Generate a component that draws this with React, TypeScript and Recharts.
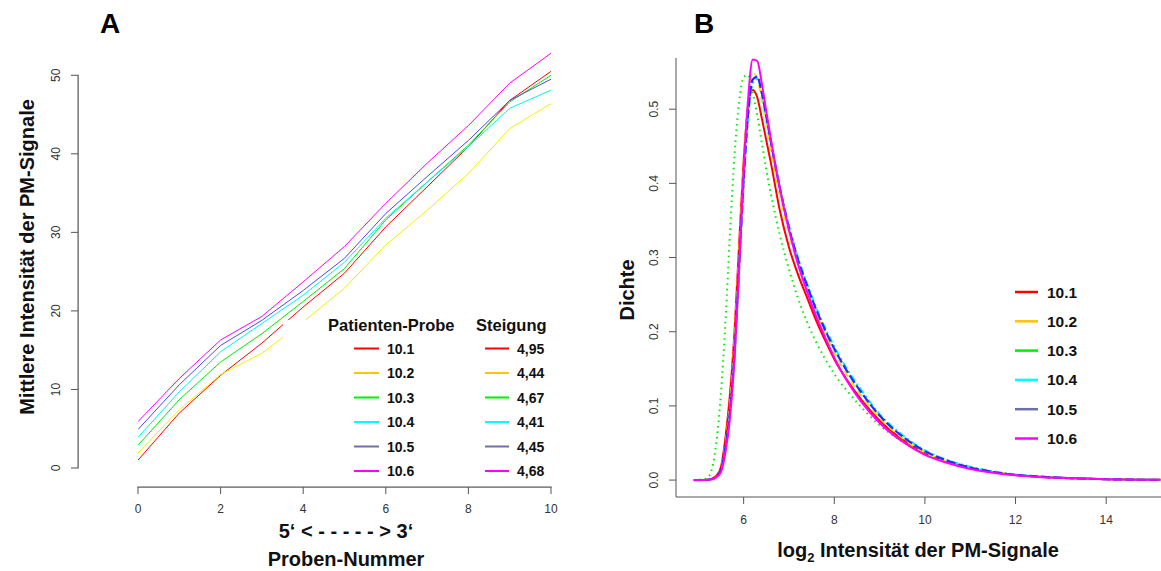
import React from 'react';
import { LineChart, Line, XAxis, YAxis } from 'recharts';

const FONT = '"Liberation Sans", Arial, Helvetica, sans-serif';

// ---------- Panel A data ----------
const probeNumbers = [0, 1, 2, 3, 4, 5, 6, 7, 8, 9, 10];
const mean101 = [1.0, 7.0, 11.8, 15.9, 20.5, 24.8, 30.7, 35.8, 40.9, 46.8, 50.5];
const mean102 = [1.9, 7.4, 11.9, 14.6, 18.6, 22.9, 28.4, 32.8, 37.5, 43.2, 46.4];
const mean103 = [2.9, 8.7, 13.5, 17.1, 21.2, 25.4, 31.6, 36.4, 41.1, 46.6, 50.0];
const mean104 = [3.9, 9.7, 14.8, 18.4, 22.0, 26.2, 31.8, 36.4, 40.9, 45.8, 48.1];
const mean105 = [4.9, 10.6, 15.6, 18.8, 22.6, 26.7, 32.4, 37.1, 41.7, 46.8, 49.5];
const mean106 = [5.9, 11.4, 16.3, 19.3, 23.7, 28.2, 33.7, 38.8, 43.6, 49.0, 52.8];

const sampleLabels = ['10.1', '10.2', '10.3', '10.4', '10.5', '10.6'];
const slopeLabels = ['4,95', '4,44', '4,67', '4,41', '4,45', '4,68'];
const xTicksA = [0, 2, 4, 6, 8, 10];
const yTicksA = [0, 10, 20, 30, 40, 50];

// ---------- Panel B data ----------
const densityX = [4.9, 5.0, 5.1, 5.2, 5.3, 5.4, 5.5, 5.6, 5.7, 5.8, 5.9, 6.0, 6.1, 6.2, 6.3, 6.4, 6.5, 6.6, 6.8, 7.0, 7.2, 7.4, 7.6, 7.8, 8.0, 8.3, 8.6, 9.0, 9.5, 10.0, 10.5, 11.0, 11.5, 12.0, 12.5, 13.0, 13.5, 14.0, 14.5, 15.0, 15.2];
const dens101 = [0, 0, 0.0002, 0.0005, 0.002, 0.006, 0.018, 0.058, 0.117, 0.202, 0.318, 0.430, 0.505, 0.526, 0.516, 0.488, 0.458, 0.428, 0.363, 0.314, 0.277, 0.246, 0.215, 0.188, 0.163, 0.133, 0.108, 0.080, 0.055, 0.036, 0.024, 0.016, 0.011, 0.007, 0.0045, 0.003, 0.002, 0.0012, 0.0007, 0.0004, 0.0003];
const dens102 = [0, 0, 0.0002, 0.0005, 0.002, 0.005, 0.016, 0.050, 0.105, 0.190, 0.305, 0.420, 0.510, 0.549, 0.541, 0.513, 0.480, 0.447, 0.384, 0.333, 0.292, 0.257, 0.226, 0.198, 0.172, 0.140, 0.114, 0.084, 0.057, 0.037, 0.025, 0.016, 0.011, 0.007, 0.0045, 0.003, 0.002, 0.0012, 0.0007, 0.0004, 0.0003];
const dens103 = [0, 0.0005, 0.001, 0.003, 0.015, 0.052, 0.118, 0.215, 0.335, 0.440, 0.510, 0.543, 0.546, 0.522, 0.492, 0.455, 0.418, 0.386, 0.330, 0.284, 0.245, 0.213, 0.186, 0.163, 0.143, 0.119, 0.098, 0.074, 0.052, 0.035, 0.024, 0.016, 0.011, 0.007, 0.0045, 0.003, 0.002, 0.0012, 0.0007, 0.0004, 0.0003];
const dens104 = [0, 0, 0.0001, 0.0003, 0.0012, 0.004, 0.013, 0.042, 0.090, 0.168, 0.280, 0.395, 0.488, 0.535, 0.541, 0.521, 0.490, 0.457, 0.395, 0.343, 0.300, 0.265, 0.233, 0.205, 0.180, 0.148, 0.121, 0.089, 0.061, 0.040, 0.027, 0.018, 0.012, 0.0075, 0.005, 0.0032, 0.002, 0.0012, 0.0007, 0.0004, 0.0003];
const dens105 = [0, 0, 0.0001, 0.0004, 0.0015, 0.005, 0.014, 0.045, 0.095, 0.175, 0.290, 0.405, 0.495, 0.540, 0.544, 0.522, 0.490, 0.456, 0.393, 0.340, 0.297, 0.262, 0.230, 0.202, 0.177, 0.145, 0.118, 0.087, 0.059, 0.039, 0.026, 0.017, 0.011, 0.007, 0.0048, 0.003, 0.002, 0.0012, 0.0007, 0.0004, 0.0003];
const dens106 = [0, 0, 0.0001, 0.0003, 0.001, 0.004, 0.011, 0.038, 0.085, 0.165, 0.285, 0.415, 0.515, 0.567, 0.565, 0.535, 0.497, 0.460, 0.393, 0.337, 0.291, 0.254, 0.221, 0.192, 0.165, 0.132, 0.105, 0.077, 0.052, 0.034, 0.023, 0.015, 0.010, 0.0065, 0.0043, 0.003, 0.002, 0.0012, 0.0007, 0.0004, 0.0003];
const xTicksB = [6, 8, 10, 12, 14];
const yTicksB = [0, 0.1, 0.2, 0.3, 0.4, 0.5];

// ---------- styles ----------
const colorsA = ['#FF0000', '#F2F200', '#00EE00', '#00F4F4', '#5048E8', '#FF00FF'];
const legendColors = ['#FF0000', '#FFC400', '#00EE00', '#00FFFF', '#6E6EA8', '#FF00FF'];
const colorsB = ['#FF0000', '#FFE000', '#00EE00', '#00EEFF', '#2828FF', '#FF00FF'];
const dashB = [undefined, '7 5', '1.5 4', '2 3 7 3', '9 3', undefined];
const widthB = [2, 2, 2, 2, 2.2, 2];

const keys = ['s101', 's102', 's103', 's104', 's105', 's106'];

const dataA = probeNumbers.map((x, i) => ({
  x,
  s101: mean101[i],
  s102: mean102[i],
  s103: mean103[i],
  s104: mean104[i],
  s105: mean105[i],
  s106: mean106[i],
}));

const dataB = densityX.map((x, i) => ({
  x,
  s101: dens101[i],
  s102: dens102[i],
  s103: dens103[i],
  s104: dens104[i],
  s105: dens105[i],
  s106: dens106[i],
}));

// ---------- Panel A layout (shared by charts and the R-style axis lines) ----------
const A_W = 600;
const A_H = 571;
const A_LEFT = 138; // plot left (x = 0)
const A_RIGHT = 551; // plot right (x = 10)
const A_TOP = 36;
const A_BOTTOM = 487;
const A_XDOM: [number, number] = [0, 10];
const A_YDOM: [number, number] = [-2.42, 55];
const A_YAXIS_X = 78;
const A_XAXIS_H = 30;
const A_YAXIS_W = 40;

const scaleAX = (v: number) => A_LEFT + ((v - A_XDOM[0]) / (A_XDOM[1] - A_XDOM[0])) * (A_RIGHT - A_LEFT);
const scaleAY = (v: number) => A_BOTTOM - ((v - A_YDOM[0]) / (A_YDOM[1] - A_YDOM[0])) * (A_BOTTOM - A_TOP);

const X_MIN_B = 4.507;
const X_MAX_B = 15.21;
const Y_MIN_B = -0.0228;
const Y_MAX_B = 0.569;

const AXIS_GREY = '#555';

const makeYTick = (fmt: (v: number) => string) => (props: any) => {
  const { x, y, payload } = props;
  const bx = x - 9;
  return (
    <text
      x={bx}
      y={y}
      transform={`rotate(-90 ${bx} ${y})`}
      textAnchor="middle"
      fontSize={12}
      fill="#333"
      fontFamily={FONT}
    >
      {fmt(payload.value)}
    </text>
  );
};

const makeXTick = (dy: number) => (props: any) => {
  const { x, y, payload } = props;
  return (
    <text x={x} y={y + dy} textAnchor="middle" fontSize={12} fill="#333" fontFamily={FONT}>
      {String(payload.value)}
    </text>
  );
};

const YTickA = makeYTick((v) => String(v));
const YTickB = makeYTick((v) => v.toFixed(1));
const XTickA = makeXTick(17.3);
const XTickB = makeXTick(18.3);

const yTop50 = scaleAY(yTicksA[yTicksA.length - 1]);
const yBot0 = scaleAY(yTicksA[0]);

export default function App() {
  return (
    <div style={{ position: 'absolute', left: 0, top: 0, width: 1161, height: 571, background: '#fff', overflow: 'hidden' }}>
      {/* Panel A: y-axis ticks (plot area spans exactly 0..50) */}
      <div style={{ position: 'absolute', left: 0, top: 0, pointerEvents: 'none' }}>
        <LineChart
          width={A_W}
          height={A_H}
          data={dataA}
          margin={{ top: yTop50, right: A_W - A_RIGHT, bottom: A_H - yBot0, left: A_YAXIS_X - A_YAXIS_W }}
        >
          <XAxis type="number" dataKey="x" domain={A_XDOM} allowDataOverflow hide />
          <YAxis
            type="number"
            domain={[yTicksA[0], yTicksA[yTicksA.length - 1]]}
            ticks={yTicksA}
            allowDataOverflow
            axisLine={false}
            tickLine={{ stroke: AXIS_GREY }}
            tickSize={7}
            tickMargin={2}
            width={A_YAXIS_W}
            tick={YTickA}
            interval={0}
          />
          <Line type="linear" dataKey="s101" stroke="none" strokeOpacity={0} dot={false} activeDot={false} isAnimationActive={false} />
        </LineChart>
      </div>

      {/* Panel A: series + x-axis ticks */}
      <div style={{ position: 'absolute', left: 0, top: 0 }}>
        <LineChart
          width={A_W}
          height={A_H}
          data={dataA}
          margin={{ top: A_TOP, right: A_W - A_RIGHT, bottom: A_H - A_BOTTOM - A_XAXIS_H, left: A_LEFT }}
        >
          <XAxis
            type="number"
            dataKey="x"
            domain={A_XDOM}
            ticks={xTicksA}
            allowDataOverflow
            axisLine={false}
            tickLine={{ stroke: AXIS_GREY }}
            tickSize={7}
            tickMargin={2}
            height={A_XAXIS_H}
            tick={XTickA}
            interval={0}
          />
          <YAxis type="number" domain={A_YDOM} allowDataOverflow width={0} axisLine={false} tickLine={false} tick={false} />
          {keys.map((k, i) => (
            <Line
              key={k}
              type="linear"
              dataKey={k}
              stroke={colorsA[i]}
              strokeWidth={1}
              dot={false}
              activeDot={false}
              isAnimationActive={false}
            />
          ))}
        </LineChart>
      </div>

      {/* Panel B */}
      <div style={{ position: 'absolute', left: 600, top: 0 }}>
        <LineChart width={561} height={571} data={dataB} margin={{ top: 58, right: 0, bottom: 44, left: 36 }}>
          <XAxis
            type="number"
            dataKey="x"
            domain={[X_MIN_B, X_MAX_B]}
            ticks={xTicksB}
            allowDataOverflow
            axisLine={{ stroke: AXIS_GREY }}
            tickLine={{ stroke: AXIS_GREY }}
            tickSize={7}
            tickMargin={2}
            height={30}
            tick={XTickB}
            interval={0}
          />
          <YAxis
            type="number"
            domain={[Y_MIN_B, Y_MAX_B]}
            ticks={yTicksB}
            allowDataOverflow
            axisLine={{ stroke: AXIS_GREY }}
            tickLine={{ stroke: AXIS_GREY }}
            tickSize={7}
            tickMargin={2}
            width={40}
            tick={YTickB}
            interval={0}
          />
          {keys.map((k, i) => (
            <Line
              key={k}
              type="monotone"
              dataKey={k}
              stroke={colorsB[i]}
              strokeWidth={widthB[i]}
              strokeDasharray={dashB[i]}
              dot={false}
              activeDot={false}
              isAnimationActive={false}
            />
          ))}
        </LineChart>
      </div>

      {/* Overlay: R-style axis lines for A, titles, axis titles, legends */}
      <svg width={1161} height={571} style={{ position: 'absolute', left: 0, top: 0, pointerEvents: 'none' }} fontFamily={FONT}>
        <rect
          x={scaleAX(xTicksA[0]) - 0.5}
          y={A_BOTTOM - 0.5}
          width={scaleAX(xTicksA[xTicksA.length - 1]) - scaleAX(xTicksA[0]) + 1}
          height={1.2}
          fill={AXIS_GREY}
        />
        <rect
          x={A_YAXIS_X - 0.5}
          y={yTop50 - 0.5}
          width={1.2}
          height={yBot0 - yTop50 + 1}
          fill={AXIS_GREY}
        />

        <text x={100} y={33} fontSize={28} fontWeight="bold" fill="#000">A</text>
        <text x={694} y={33} fontSize={28} fontWeight="bold" fill="#000">B</text>

        <text x={34} y={257} transform="rotate(-90 34 257)" textAnchor="middle" fontSize={20} fontWeight="bold" fill="#111">
          Mittlere Intensität der PM-Signale
        </text>
        <text x={346} y={538} textAnchor="middle" fontSize={20} fontWeight="bold" fill="#111">
          5‘ &lt; - - - - - &gt; 3‘
        </text>
        <text x={346} y={566} textAnchor="middle" fontSize={20} fontWeight="bold" fill="#111">
          Proben-Nummer
        </text>

        <text x={634} y={290} transform="rotate(-90 634 290)" textAnchor="middle" fontSize={20} fontWeight="bold" fill="#111">
          Dichte
        </text>
        <text x={918} y={557} textAnchor="middle" fontSize={20} fontWeight="bold" fill="#111">
          log<tspan fontSize={13} dy={5}>2</tspan><tspan dy={-5}> Intensität der PM-Signale</tspan>
        </text>

        {/* Legend A with white background */}
        <rect x={283} y={320} width={275} height={162} fill="#fff" />
        <text x={328} y={331} fontSize={16.5} fontWeight="bold" fill="#111">Patienten-Probe</text>
        <text x={476} y={331} fontSize={16.5} fontWeight="bold" fill="#111">Steigung</text>
        {sampleLabels.map((lab, i) => {
          const cy = 348.5 + i * 24.5;
          return (
            <g key={'la' + i}>
              <line x1={354} x2={379} y1={cy} y2={cy} stroke={legendColors[i]} strokeWidth={2} />
              <text x={387} y={cy + 5} fontSize={14} fontWeight="bold" fill="#111">{lab}</text>
              <line x1={485} x2={509} y1={cy} y2={cy} stroke={legendColors[i]} strokeWidth={2} />
              <text x={517} y={cy + 5} fontSize={14} fontWeight="bold" fill="#111">{slopeLabels[i]}</text>
            </g>
          );
        })}

        {/* Legend B */}
        {sampleLabels.map((lab, i) => {
          const cy = 292 + i * 29.3;
          return (
            <g key={'lb' + i}>
              <line x1={1015} x2={1038} y1={cy} y2={cy} stroke={legendColors[i]} strokeWidth={2.5} />
              <text x={1047} y={cy + 5.5} fontSize={15.5} fontWeight="bold" fill="#111">{lab}</text>
            </g>
          );
        })}
      </svg>
    </div>
  );
}
